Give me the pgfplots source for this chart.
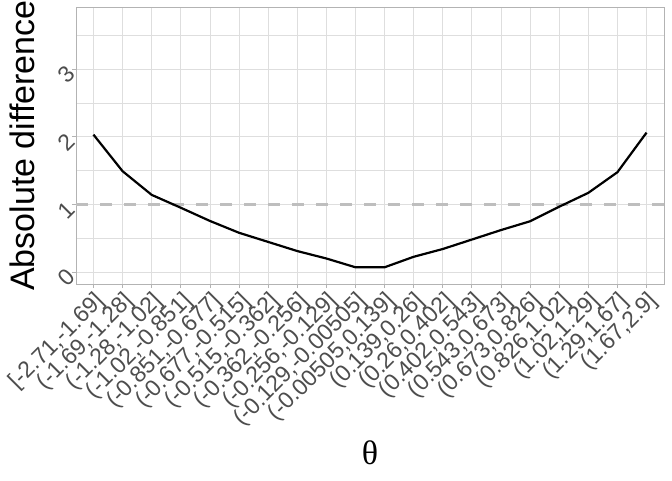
\documentclass[border=0pt]{standalone}
\usepackage{pgfplots}
\pgfplotsset{compat=1.18}
\usepackage{fontspec}
\setmainfont{Liberation Sans}
\newfontfamily\serifgreek{Liberation Serif}
\definecolor{gridc}{HTML}{DEDEDE}
\definecolor{borderc}{HTML}{B3B3B3}
\definecolor{textc}{HTML}{4D4D4D}
\definecolor{refc}{HTML}{BEBEBE}
\pgfplotstableread{
x y
0 2.03
1 1.49
2 1.14
3 0.95
4 0.755
5 0.58
6 0.445
7 0.31
8 0.20
9 0.07
10 0.07
11 0.225
12 0.34
13 0.48
14 0.62
15 0.75
16 0.965
17 1.17
18 1.475
19 2.06
}\datatable
\begin{document}
\begin{tikzpicture}
\useasboundingbox (0,0) rectangle (672pt,480pt);
\begin{axis}[
  at={(76pt,196pt)}, anchor=south west,
  scale only axis, width=588pt, height=277pt,
  xmin=-0.6, xmax=19.6, ymin=-0.177, ymax=3.916,
  xtick={0,...,19},
  xticklabels={{[-2.71,-1.69]},{(-1.69,-1.28]},{(-1.28,-1.02]},{(-1.02,-0.851]},{(-0.851,-0.677]},{(-0.677,-0.515]},{(-0.515,-0.362]},{(-0.362,-0.256]},{(-0.256,-0.129]},{(-0.129,-0.00505]},{(-0.00505,0.139]},{(0.139,0.26]},{(0.26,0.402]},{(0.402,0.543]},{(0.543,0.673]},{(0.673,0.826]},{(0.826,1.02]},{(1.02,1.29]},{(1.29,1.67]},{(1.67,2.9]}},
  ytick={0,1,2,3},
  minor ytick={0.5,1.5,2.5,3.5},
  grid=both,
  major grid style={gridc, line width=0.8pt},
  minor grid style={gridc, line width=0.6pt},
  axis line style={borderc, line width=0.8pt},
  tick style={borderc, line width=0.8pt},
  major tick length=4pt, minor tick length=0pt,
  tick align=outside, tick pos=left,
  /pgf/number format/assume math mode=true,
  tick label style={font=\fontsize{23}{23}\selectfont, text=textc},
  x tick label style={rotate=45, anchor=north east, inner sep=1.5pt},
  y tick label style={rotate=45, anchor=east, inner sep=1.5pt},
  xlabel={\serifgreek θ},
  xlabel style={font=\fontsize{34}{34}\selectfont, at={(axis description cs:0.5,-0.6101)}, anchor=center},
  ylabel={Absolute difference},
  ylabel style={font=\fontsize{34}{34}\selectfont, at={(axis description cs:-0.0918,0.5)}, anchor=center},
  clip=true,
]
\addplot[refc, line width=3pt, dash pattern=on 12pt off 12pt] coordinates {(-0.6,1) (19.6,1)};
\addplot[black, line width=2.2pt, line join=round] table[x=x, y=y] {\datatable};
\end{axis}
\end{tikzpicture}
\end{document}
